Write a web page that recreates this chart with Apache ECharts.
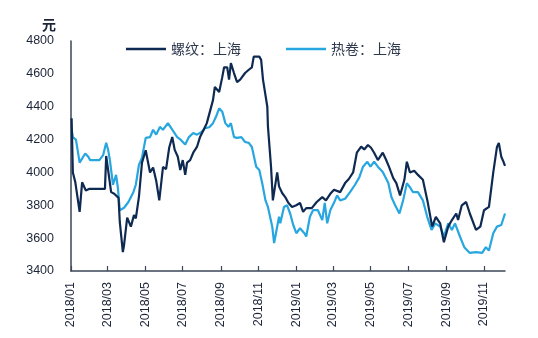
<!DOCTYPE html>
<html>
<head>
<meta charset="utf-8">
<script src="https://cdn.jsdelivr.net/npm/echarts@6/dist/echarts.min.js"></script>
<style>
  html, body { margin: 0; padding: 0; background: #ffffff; }
  #chart { width: 538px; height: 338px; }
</style>
</head>
<body>
<div id="chart"></div>
<script>
// 螺纹：上海 (rebar, Shanghai) — date / price pairs
const rebarDates = [
  '2018-01-02','2018-01-04','2018-01-08','2018-01-15','2018-01-19','2018-01-25','2018-01-31','2018-02-09','2018-02-17','2018-02-25',
  '2018-02-27','2018-03-02','2018-03-07','2018-03-12','2018-03-15','2018-03-19','2018-03-21','2018-03-26','2018-03-28','2018-04-02',
  '2018-04-08','2018-04-13','2018-04-16','2018-04-21','2018-04-26','2018-05-02','2018-05-09','2018-05-14','2018-05-19','2018-05-24',
  '2018-05-30','2018-06-04','2018-06-09','2018-06-14','2018-06-18','2018-06-23','2018-06-27','2018-07-01','2018-07-05','2018-07-08',
  '2018-07-13','2018-07-18','2018-07-24','2018-07-29','2018-08-04','2018-08-09','2018-08-14','2018-08-19','2018-08-22','2018-08-29',
  '2018-09-03','2018-09-06','2018-09-11','2018-09-14','2018-09-17','2018-09-22','2018-09-27','2018-10-02','2018-10-10','2018-10-16',
  '2018-10-21','2018-10-24','2018-11-02','2018-11-05','2018-11-08','2018-11-15','2018-11-16','2018-11-21','2018-11-24','2018-12-01',
  '2018-12-04','2018-12-09','2018-12-14','2018-12-19','2018-12-25','2019-01-01','2019-01-07','2019-01-12','2019-01-17','2019-01-26',
  '2019-02-03','2019-02-12','2019-02-18','2019-02-25','2019-03-03','2019-03-13','2019-03-21','2019-03-27','2019-04-03','2019-04-09',
  '2019-04-16','2019-04-21','2019-04-27','2019-05-02','2019-05-07','2019-05-13','2019-05-21','2019-05-26','2019-05-31','2019-06-07',
  '2019-06-12','2019-06-18','2019-06-25','2019-06-29','2019-07-04','2019-07-11','2019-07-17','2019-07-25','2019-08-02','2019-08-09',
  '2019-08-15','2019-08-22','2019-08-28','2019-09-04','2019-09-10','2019-09-17','2019-09-20','2019-09-26','2019-10-03','2019-10-09',
  '2019-10-19','2019-10-26','2019-11-01','2019-11-09','2019-11-16','2019-11-22','2019-11-25','2019-11-29','2019-12-02','2019-12-05'
];
const rebarValues = [
  4330,4000,3940,3760,3940,3890,3900,3900,3900,3900,
  4100,4100,3880,3870,3880,3845,3700,3515,3560,3725,
  3670,3740,3720,3850,4060,4135,4000,4030,3950,3830,
  4033,4020,4150,4216,4137,4095,4015,4075,3985,4060,
  4075,4120,4155,4215,4260,4300,4370,4440,4520,4490,
  4580,4640,4640,4565,4665,4605,4550,4565,4605,4625,
  4640,4705,4705,4685,4565,4400,4280,4035,3830,4000,
  3915,3875,3850,3815,3790,3800,3815,3760,3783,3783,
  3820,3850,3830,3870,3895,3880,3935,3960,4000,4120,
  4157,4140,4167,4150,4120,4075,4120,4080,4035,3965,
  3935,3860,3955,4065,4000,4010,3985,3955,3815,3670,
  3730,3690,3575,3670,3710,3750,3710,3800,3820,3750,
  3650,3670,3770,3790,4000,4155,4180,4095,4070,4040
];

// 热卷：上海 (hot-rolled coil, Shanghai) — date / price pairs
const coilDates = [
  '2018-01-02','2018-01-04','2018-01-09','2018-01-15','2018-01-24','2018-01-29','2018-02-01','2018-02-09','2018-02-16','2018-02-22',
  '2018-02-27','2018-03-02','2018-03-05','2018-03-10','2018-03-15','2018-03-18','2018-03-21','2018-03-28','2018-04-04','2018-04-12',
  '2018-04-16','2018-04-21','2018-04-26','2018-05-02','2018-05-09','2018-05-14','2018-05-19','2018-05-25','2018-05-30','2018-06-07',
  '2018-06-14','2018-06-22','2018-06-28','2018-07-05','2018-07-11','2018-07-18','2018-07-24','2018-07-31','2018-08-06','2018-08-13',
  '2018-08-19','2018-08-24','2018-08-29','2018-09-03','2018-09-08','2018-09-13','2018-09-17','2018-09-22','2018-09-27','2018-10-04',
  '2018-10-10','2018-10-16','2018-10-21','2018-10-28','2018-11-02','2018-11-07','2018-11-12','2018-11-16','2018-11-23','2018-11-26',
  '2018-11-29','2018-12-04','2018-12-06','2018-12-12','2018-12-17','2018-12-22','2018-12-27','2019-01-01','2019-01-07','2019-01-14',
  '2019-01-17','2019-01-23','2019-01-28','2019-02-05','2019-02-12','2019-02-16','2019-02-20','2019-02-25','2019-03-03','2019-03-08',
  '2019-03-13','2019-03-21','2019-03-29','2019-04-06','2019-04-13','2019-04-19','2019-04-26','2019-05-01','2019-05-07','2019-05-13',
  '2019-05-21','2019-05-30','2019-06-04','2019-06-10','2019-06-17','2019-06-23','2019-06-29','2019-07-04','2019-07-09','2019-07-17',
  '2019-07-25','2019-08-01','2019-08-08','2019-08-14','2019-08-22','2019-08-28','2019-09-04','2019-09-10','2019-09-15','2019-09-23',
  '2019-09-30','2019-10-09','2019-10-19','2019-10-29','2019-11-04','2019-11-09','2019-11-16','2019-11-22','2019-11-29','2019-12-05'
];
const coilValues = [
  4260,4215,4200,4060,4115,4095,4075,4075,4075,4105,
  4180,4140,4075,3925,3985,3905,3770,3785,3820,3880,
  3925,4045,4090,4210,4215,4260,4230,4277,4260,4300,
  4260,4215,4198,4170,4215,4240,4230,4245,4270,4275,
  4300,4340,4390,4370,4300,4277,4300,4215,4210,4215,
  4185,4180,4155,4035,4015,3930,3830,3790,3670,3570,
  3630,3730,3690,3790,3800,3750,3680,3630,3660,3630,
  3610,3730,3770,3770,3710,3815,3690,3770,3815,3860,
  3830,3840,3880,3925,3970,4035,4065,4035,4065,4035,
  4003,3935,3850,3800,3750,3830,3935,3910,3880,3880,
  3830,3730,3650,3690,3670,3610,3690,3650,3690,3610,
  3545,3510,3515,3510,3545,3525,3630,3670,3680,3750
];

// y-axis scale
const yMin = 3400, yMax = 4800, yStep = 200;
// range of the date axis
const axisStart = '2018-01-01', axisEnd = '2019-12-05';

const seriesNames = ['螺纹：上海', '热卷：上海'];
const seriesColors = ['#0f2a52', '#27a6df'];

// one category per calendar day
function dayList(from, to) {
  const out = [];
  const d = new Date(from + 'T00:00:00Z');
  const end = new Date(to + 'T00:00:00Z');
  while (d <= end) {
    out.push(d.toISOString().slice(0, 10));
    d.setUTCDate(d.getUTCDate() + 1);
  }
  return out;
}
const days = dayList(axisStart, axisEnd);

// ticks and labels on the first day of every odd month
function isMarkDay(index, value) {
  const m = parseInt(value.slice(5, 7), 10);
  return value.slice(8, 10) === '01' && m % 2 === 1;
}

const pair = (dates, values) => dates.map((d, i) => [d, values[i]]);

const axisColor = '#3b4658';
const textColor = '#1c2438';
const font = 'Liberation Sans';

const chart = echarts.init(document.getElementById('chart'), null, { renderer: 'canvas' });
chart.setOption({
  animation: false,
  backgroundColor: '#ffffff',
  title: {
    text: '元',
    left: 37,
    top: 13,
    textStyle: { fontSize: 14, fontWeight: 'bold', color: textColor, fontFamily: 'Noto Sans CJK SC' }
  },
  legend: {
    data: seriesNames,
    left: 121,
    top: 37,
    itemWidth: 40,
    itemHeight: 14,
    itemGap: 45,
    icon: 'path://M0,6 L40,6 L40,8.5 L0,8.5 Z',
    textStyle: { fontSize: 14, color: '#2f3a4f', fontFamily: 'Noto Sans CJK SC' }
  },
  grid: { left: 71, right: 33, top: 41, bottom: 67, containLabel: false },
  xAxis: {
    type: 'category',
    data: days,
    boundaryGap: false,
    axisLine: { show: true, lineStyle: { color: axisColor, width: 1.5 } },
    axisTick: { show: true, inside: true, length: 5, interval: isMarkDay, lineStyle: { color: axisColor, width: 1.2 } },
    axisLabel: {
      interval: isMarkDay,
      rotate: 90,
      margin: 11,
      fontSize: 12.5,
      color: textColor,
      fontFamily: font,
      formatter: v => v.slice(0, 4) + '/' + v.slice(5, 7)
    },
    splitLine: { show: false }
  },
  yAxis: {
    type: 'value',
    min: yMin,
    max: yMax,
    interval: yStep,
    axisLine: { show: true, lineStyle: { color: axisColor, width: 1.5 } },
    axisTick: { show: false },
    axisLabel: { margin: 17, fontSize: 12.5, color: textColor, fontFamily: font, formatter: v => String(v) },
    splitLine: { show: false }
  },
  series: [
    {
      name: seriesNames[0],
      type: 'line',
      data: pair(rebarDates, rebarValues),
      showSymbol: false,
      symbol: 'none',
      z: 3,
      lineStyle: { color: seriesColors[0], width: 2.2 },
      itemStyle: { color: seriesColors[0] }
    },
    {
      name: seriesNames[1],
      type: 'line',
      data: pair(coilDates, coilValues),
      showSymbol: false,
      symbol: 'none',
      z: 2,
      lineStyle: { color: seriesColors[1], width: 2.2 },
      itemStyle: { color: seriesColors[1] }
    }
  ]
});
</script>
</body>
</html>
